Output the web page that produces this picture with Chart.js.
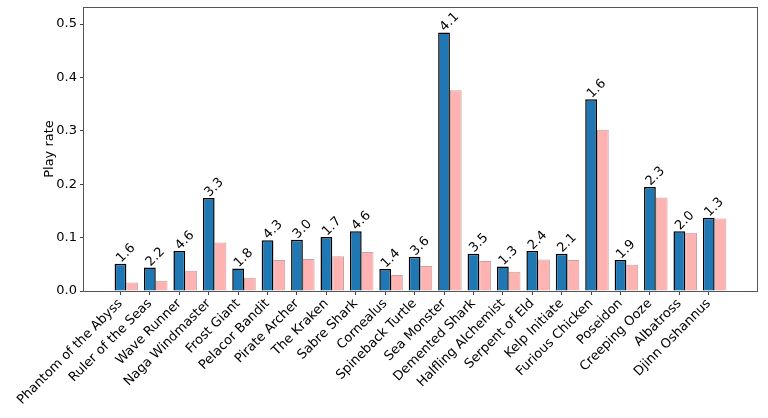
<!DOCTYPE html>
<html>
<head>
<meta charset="utf-8">
<script src="https://cdn.jsdelivr.net/npm/chart.js@4"></script>
<style>
  html, body { margin: 0; padding: 0; background: #fff; }
  #wrap { width: 768px; height: 418px; }
</style>
</head>
<body>
<div id="wrap"><canvas id="playChart"></canvas></div>
<script>
// categories and values
const heroes = [
  "Phantom of the Abyss", "Ruler of the Seas", "Wave Runner", "Naga Windmaster",
  "Frost Giant", "Pelacor Bandit", "Pirate Archer", "The Kraken", "Sabre Shark",
  "Cornealus", "Spineback Turtle", "Sea Monster", "Demented Shark",
  "Halfling Alchemist", "Serpent of Eld", "Kelp Initiate", "Furious Chicken",
  "Poseidon", "Creeping Ooze", "Albatross", "Djinn Oshannus"
];
const playRate = [
  0.051, 0.044, 0.075, 0.174, 0.042, 0.095, 0.096, 0.101, 0.112, 0.041, 0.064,
  0.484, 0.070, 0.046, 0.075, 0.070, 0.359, 0.058, 0.195, 0.112, 0.137
];
const basePlayRate = [
  0.016, 0.019, 0.038, 0.091, 0.025, 0.058, 0.060, 0.065, 0.073, 0.030, 0.047,
  0.376, 0.056, 0.036, 0.059, 0.058, 0.302, 0.049, 0.175, 0.109, 0.136
];
const ratioLabels = [
  "1.6", "2.2", "4.6", "3.3", "1.8", "4.3", "3.0", "1.7", "4.6", "1.4", "3.6",
  "4.1", "3.5", "1.3", "2.4", "2.1", "1.6", "1.9", "2.3", "2.0", "1.3"
];
const yTicks = [0, 0.1, 0.2, 0.3, 0.4, 0.5];

const FONT = "'DejaVu Sans', sans-serif";

// bars sit at group centre i; blue half is left of it, so ticks go at i - 0.2
const blueData = playRate.map((v, i) => ({ x: i, y: v }));
const pinkData = basePlayRate.map((v, i) => ({ x: i, y: v }));

// rotated value labels above the blue bars
const ratioLabelPlugin = {
  id: "ratioLabels",
  afterDatasetsDraw(chart) {
    const ctx = chart.ctx;
    const meta = chart.getDatasetMeta(0);
    ctx.save();
    ctx.font = "13px " + FONT;
    ctx.fillStyle = "#000";
    ctx.textAlign = "center";
    ctx.textBaseline = "middle";
    meta.data.forEach((bar, i) => {
      ctx.save();
      ctx.translate(bar.x + 5.5, bar.y - 10.5);
      ctx.rotate(-Math.PI / 4);
      ctx.fillText(ratioLabels[i], 0, 0);
      ctx.restore();
    });
    ctx.restore();
  },
};

// full box round the plot, like matplotlib spines
const frameBox = {
  id: "frameBox",
  afterDraw(chart) {
    const a = chart.chartArea;
    const ctx = chart.ctx;
    ctx.save();
    ctx.strokeStyle = "#555";
    ctx.lineWidth = 1;
    ctx.strokeRect(Math.round(a.left) - 0.5, Math.round(a.top) + 0.5,
      Math.round(a.right - a.left) + 1, Math.round(a.bottom - a.top));
    ctx.restore();
  },
};

new Chart(document.getElementById("playChart"), {
  type: "bar",
  data: {
    datasets: [
      {
        data: blueData,
        backgroundColor: "#1f77b4",
        borderColor: "#000",
        borderWidth: 1.5,
      },
      {
        data: pinkData,
        backgroundColor: "#ffb2b2",
        borderColor: "#c9a3a3",
        borderWidth: 1,
      },
    ],
  },
  options: {
    responsive: true,
    maintainAspectRatio: false,
    animation: false,
    categoryPercentage: 0.8,
    barPercentage: 1,
    layout: { padding: { top: 7, right: 11, left: 0, bottom: 0 } },
    plugins: {
      legend: { display: false },
      tooltip: { enabled: false },
    },
    scales: {
      x: {
        type: "linear",
        min: -1.44,
        max: 21.44,
        offset: false,
        border: { display: false },
        grid: {
          offset: false,
          drawOnChartArea: false,
          drawTicks: true,
          tickLength: 4,
          tickColor: "#444",
        },
        afterBuildTicks(axis) {
          axis.ticks = heroes.map((h, i) => ({ value: i - 0.2 }));
        },
        afterFit(axis) {
          axis.height = 127;
          axis.paddingLeft = 0;
          axis.paddingRight = 0;
        },
        ticks: {
          autoSkip: false,
          minRotation: 45,
          maxRotation: 45,
          padding: 1,
          color: "#000",
          font: { family: FONT, size: 13 },
          callback: (value, index) => heroes[index],
        },
      },
      y: {
        min: 0,
        max: 0.532,
        border: { display: false },
        grid: {
          drawOnChartArea: false,
          drawTicks: true,
          tickLength: 4,
          tickColor: "#444",
        },
        afterBuildTicks(axis) {
          axis.ticks = yTicks.map((v) => ({ value: v }));
        },
        afterFit(axis) {
          axis.width = 84;
          axis.paddingTop = 0;
          axis.paddingBottom = 0;
        },
        ticks: {
          padding: 3,
          color: "#000",
          font: { family: FONT, size: 13 },
          callback: (value) => value.toFixed(1),
        },
        title: {
          display: true,
          text: "Play rate",
          color: "#000",
          padding: { top: 42, bottom: 0 },
          font: { family: FONT, size: 13 },
        },
      },
    },
  },
  plugins: [ratioLabelPlugin, frameBox],
});
</script>
</body>
</html>
